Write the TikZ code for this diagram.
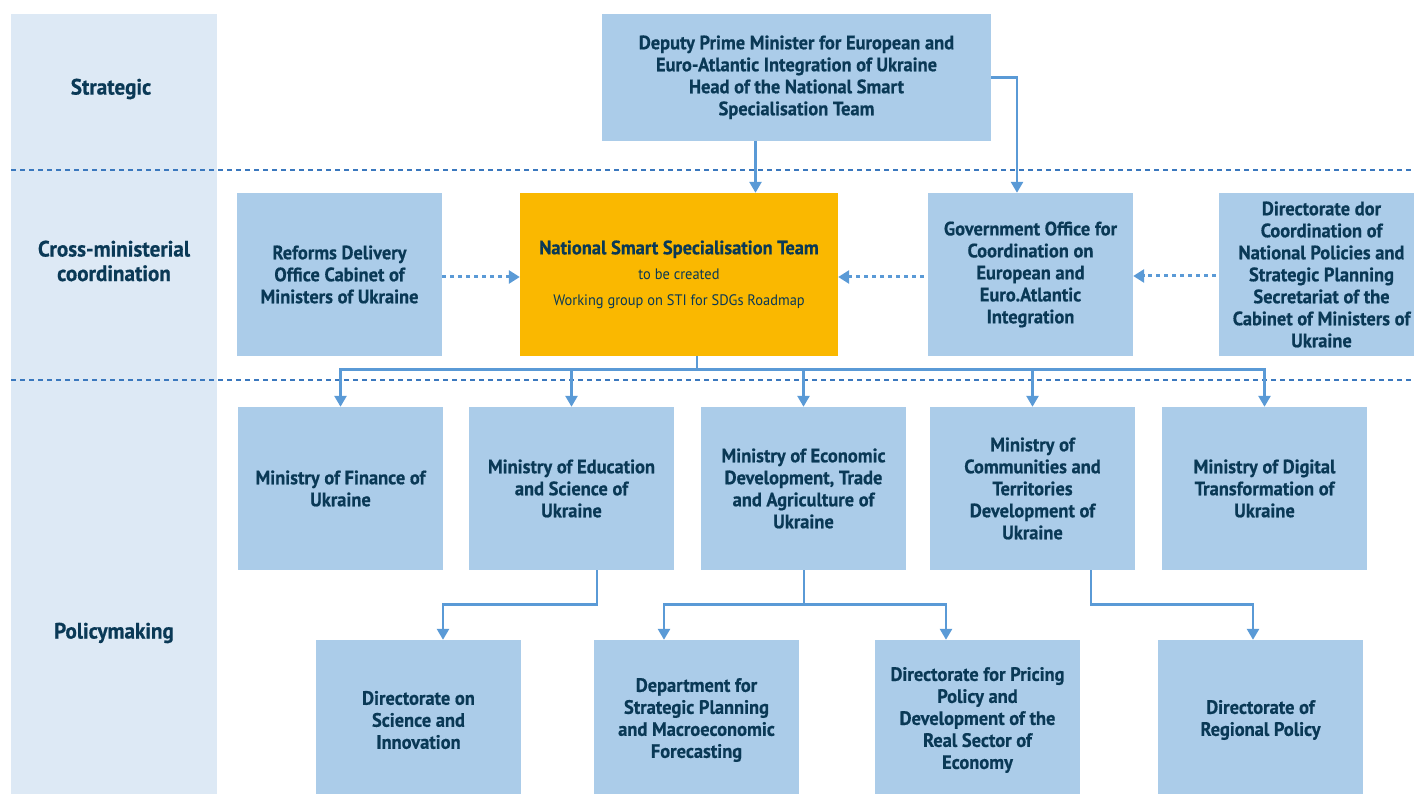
\documentclass[tikz,border=0pt]{standalone}
\usepackage{fontspec}
\setmainfont{PT Sans}[FakeStretch=0.95, BoldFeatures={FakeBold=0.6}]
\usetikzlibrary{arrows.meta,calc}
\definecolor{bandblue}{HTML}{DDE9F5}
\definecolor{boxblue}{HTML}{ABCCE9}
\definecolor{eyellow}{HTML}{FAB800}
\definecolor{navy}{HTML}{0A3956}
\definecolor{arrblue}{HTML}{5A9AD6}
\definecolor{lineblue}{HTML}{3A78BE}
\newcommand\boxfont{\fontsize{19.4}{22}\selectfont\bfseries}
\newcommand\smallfont{\fontsize{15.2}{22}\selectfont}
\tikzset{
  unit/.style={fill=boxblue, inner sep=0pt, minimum width=205pt, minimum height=163pt, align=center, font=\boxfont, text=navy},
  lowunit/.style={unit, minimum height=160pt},
  bandlabel/.style={align=center, font=\fontsize{22.2}{24.5}\selectfont\bfseries, text=navy},
  arr/.style={draw=arrblue, line width=2.6pt, -{Triangle[width=12pt,length=11pt]}},
  link/.style={draw=arrblue, line width=2.6pt},
  dasharr/.style={draw=arrblue, line width=3pt, dash pattern=on 4pt off 4pt, -{Triangle[width=13pt,length=11pt]}, shorten >=0pt},
  levelline/.style={draw=lineblue, line width=1.4pt, dash pattern=on 5pt off 4pt}
}
\begin{document}
\begin{tikzpicture}[x=1pt,y=-1pt]
\useasboundingbox (0,0) rectangle (1414,794);
\clip (0,0) rectangle (1414,794);
% level band
\fill[bandblue] (11,14) rectangle (217,800);
\node[bandlabel] (lstrat) at (111,89) {Strategic};
\node[bandlabel] (lcross) at (114,261) {Cross-ministerial\\coordination};
\node[bandlabel] (lpolicy) at (114,633) {Policymaking};
% level separators
\coordinate (sepAl) at (11,170); \coordinate (sepAr) at (1414,170);
\coordinate (sepBl) at (11,380); \coordinate (sepBr) at (1414,380);
\draw[levelline] (sepAl) -- (sepAr);
\draw[levelline] (sepBl) -- (sepBr);
% boxes
\node[unit, minimum width=389pt, minimum height=126.7pt] (deputy) at (796.5,77.3)
  {Deputy Prime Minister for European and\\Euro-Atlantic Integration of Ukraine\\Head of the National Smart\\Specialisation Team};
\node[unit] (reforms) at (339.5,274.5) {Reforms Delivery\\Office Cabinet of\\Ministers of Ukraine};
\node[unit, fill=eyellow, minimum width=318pt] (nsst) at (679,274.5)
  {National Smart Specialisation Team\\[3.5pt]{\smallfont\mdseries to be created}\\[3.5pt]{\smallfont\mdseries Working group on STI for SDGs Roadmap}};
\node[unit] (gov) at (1030.5,274.5) {Government Office for\\Coordination on\\European and\\Euro.Atlantic\\Integration};
\node[unit] (dircoord) at (1321.5,274.5) {Directorate dor\\Coordination of\\National Policies and\\Strategic Planning\\Secretariat of the\\Cabinet of Ministers of\\Ukraine};
\node[unit] (finance) at (340.5,488.5) {Ministry of Finance of\\Ukraine};
\node[unit] (edu) at (571.5,488.5) {Ministry of Education\\and Science of\\Ukraine};
\node[unit] (econ) at (803.5,488.5) {Ministry of Economic\\Development, Trade\\and Agriculture of\\Ukraine};
\node[unit] (comm) at (1032.5,488.5) {Ministry of\\Communities and\\Territories\\Development of\\Ukraine};
\node[unit] (digital) at (1264.5,488.5) {Ministry of Digital\\Transformation of\\Ukraine};
\node[lowunit] (dirsci) at (418.5,720) {Directorate on\\Science and\\Innovation};
\node[lowunit] (dept) at (696.5,720) {Department for\\Strategic Planning\\and Macroeconomic\\Forecasting};
\node[lowunit] (pricing) at (977.5,720) {Directorate for Pricing\\Policy and\\Development of the\\Real Sector of\\Economy};
\node[lowunit] (regional) at (1260.5,720) {Directorate of\\Regional Policy};
% strategic links
\draw[arr] ([xshift=-41pt]deputy.south) -- ([xshift=-41pt]deputy.south |- nsst.north);
\draw[arr] (deputy.east) -| ([xshift=-13.5pt]gov.north);
% dashed cooperation links
\draw[dasharr] (reforms.east |- 0,277) -- (nsst.west |- 0,277);
\draw[dasharr] ([xshift=-4pt]gov.west |- 0,277) -- (nsst.east |- 0,277);
\draw[dasharr] ([xshift=-3pt]dircoord.west |- 0,276) -- (gov.east |- 0,276);
% bus to ministries
\coordinate (bus) at ($([xshift=18pt]nsst.south)+(0,13)$);
\draw[link] ([xshift=18pt]nsst.south) -- (bus);
\foreach \m in {finance,edu,econ,comm,digital}{
  \draw[arr] (bus) -| (\m.north);
}
% ministries to directorates
\draw[arr] ([xshift=25.5pt]edu.south) -- ++(0,34) -| ([xshift=24.5pt]dirsci.north);
\coordinate (econjoin) at ($(econ.south)+(0.5,34)$);
\draw[link] ([xshift=0.5pt]econ.south) -- (econjoin);
\draw[arr] (econjoin) -| ([xshift=-32.5pt]dept.north);
\draw[arr] (econjoin) -| ([xshift=-31.5pt]pricing.north);
\draw[arr] ([xshift=58.5pt]comm.south) -- ++(0,34) -| ([xshift=-7.5pt]regional.north);
\end{tikzpicture}
\end{document}
